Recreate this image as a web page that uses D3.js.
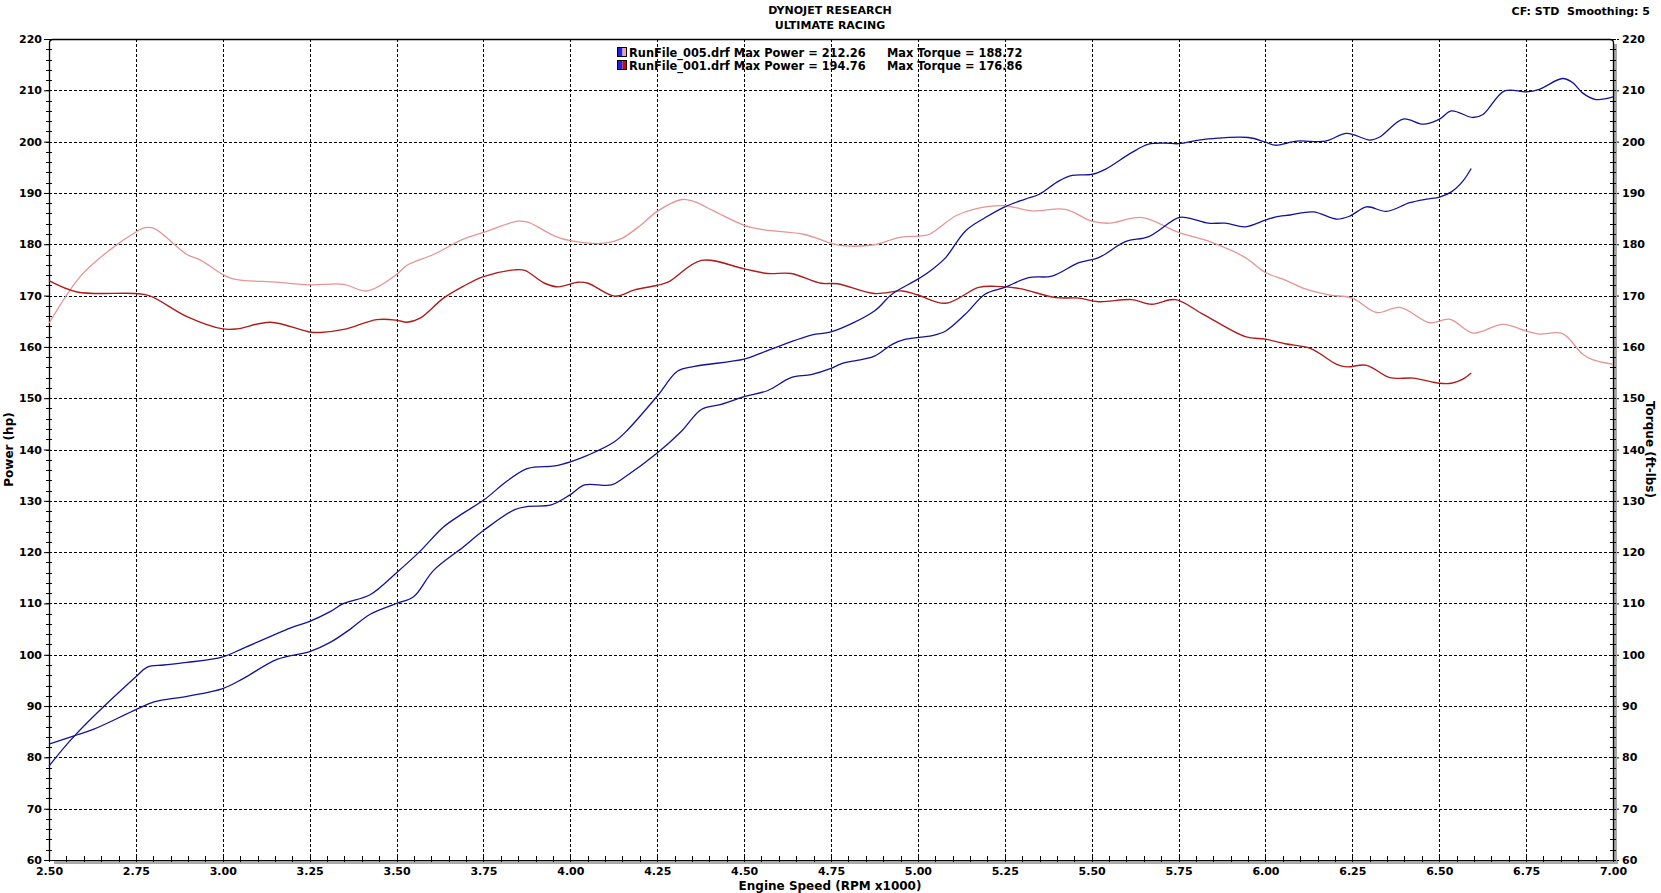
<!DOCTYPE html>
<html><head><meta charset="utf-8">
<script src="https://cdn.jsdelivr.net/npm/d3@7"></script>
<style>
body{margin:0;background:#fff;}
svg text{font-family:"DejaVu Sans",Verdana,sans-serif;font-weight:bold;fill:#000;}
</style>
</head><body>
<svg id="chart" width="1661" height="893"></svg>
<script>
// ---------- DATA ----------
const titleLines = ["DYNOJET RESEARCH", "ULTIMATE RACING"];
const cornerNote = "CF: STD  Smoothing: 5";
const xTickValues = [2.50,2.75,3.00,3.25,3.50,3.75,4.00,4.25,4.50,4.75,5.00,5.25,5.50,5.75,6.00,6.25,6.50,6.75,7.00];
const yTickValues = [60,70,80,90,100,110,120,130,140,150,160,170,180,190,200,210,220];

const legendFiles = ["RunFile_005.drf", "RunFile_001.drf"];
const legendMaxPower = ["212.26", "194.76"];
const legendMaxTorque = ["188.72", "176.86"];

// Run 005 power (hp)
const rpmPower005 = [2.50,2.572,2.75,2.783,2.83,2.897,3.00,3.06,3.194,3.25,3.309,3.348,3.424,3.50,3.568,3.635,3.692,
  3.75,3.821,3.878,3.955,4.00,4.051,4.127,4.166,4.25,4.309,4.357,4.50,4.549,4.693,4.75,4.875,
  4.926,5.00,5.041,5.08,5.137,5.194,5.25,5.309,5.348,5.405,5.444,5.50,5.539,5.616,5.664,5.712,5.75,5.808,5.846,5.951,6.00,6.028,
  6.09,6.172,6.234,6.301,6.329,6.396,6.454,6.501,6.535,6.597,6.626,6.688,6.75,6.788,6.855,6.884,6.912,6.951,7.00];
const hpPower005 = [78.3,84.1,95.7,97.6,98.0,98.5,99.6,101.3,105.2,106.5,108.4,110.0,111.7,116.0,120.2,124.9,127.6,
  130.1,134.0,136.3,136.8,137.6,138.9,141.5,143.9,150.4,155.3,156.2,157.6,158.8,162.3,162.9,167.0,
  170.3,173.2,175.1,177.4,182.6,185.2,187.3,188.8,189.7,192.3,193.4,193.6,194.6,197.9,199.5,199.7,199.6,200.3,200.6,200.8,199.9,199.3,
  200.1,200.1,201.6,200.3,200.9,204.4,203.4,204.4,206.0,204.7,205.3,209.9,209.7,210.2,212.3,211.5,209.5,208.2,208.7];

// Run 001 power (hp)
const rpmPower001 = [2.50,2.572,2.629,2.75,2.802,2.897,3.00,3.06,3.156,3.25,3.309,3.367,3.424,3.50,3.549,3.606,3.692,
  3.75,3.84,3.878,3.945,4.00,4.041,4.118,4.156,4.25,4.319,4.377,4.434,4.50,4.568,4.635,4.693,4.75,4.779,4.875,
  4.926,4.965,5.041,5.08,5.137,5.194,5.25,5.319,5.386,5.463,5.52,5.597,5.664,5.75,5.779,5.836,5.884,5.942,6.00,6.028,
  6.071,6.138,6.205,6.243,6.291,6.348,6.415,6.463,6.501,6.535,6.568,6.592];
const hpPower001 = [82.6,84.2,85.5,89.3,90.8,91.9,93.4,95.4,99.1,100.6,102.4,105.0,107.9,110.0,111.3,116.4,121.0,
  124.2,128.3,128.9,129.2,131.2,133.1,133.1,134.6,139.3,143.5,147.8,148.8,150.3,151.5,154.0,154.6,155.8,156.7,158.2,
  160.5,161.5,162.2,163.1,166.4,170.3,171.6,173.5,173.8,176.4,177.4,180.5,181.5,185.2,185.1,184.1,184.1,183.4,184.7,185.3,
  185.7,186.3,184.9,185.5,187.3,186.4,188.1,188.8,189.2,190.2,192.3,194.76];

// Run 005 torque (ft-lbs)
const rpmTorque005 = [2.50,2.591,2.677,2.75,2.773,2.802,2.897,2.936,3.00,3.032,3.156,3.25,3.348,3.415,3.50,3.53,3.606,3.692,
  3.75,3.85,3.878,3.955,4.00,4.099,4.147,4.204,4.25,4.32,4.357,4.415,4.50,4.559,4.674,4.75,4.788,4.875,
  4.945,5.00,5.032,5.108,5.166,5.25,5.329,5.424,5.50,5.549,5.645,5.75,5.836,5.942,6.00,6.057,
  6.119,6.186,6.25,6.32,6.387,6.473,6.53,6.597,6.683,6.75,6.788,6.855,6.912,6.941,7.00];
const tqTorque005 = [164.6,173.8,179.0,182.4,183.2,183.1,178.0,176.9,174.1,173.2,172.6,172.1,172.2,170.9,174.1,175.9,178.0,181.0,
  182.3,184.5,184.3,181.6,180.7,180.2,181.1,183.8,186.4,188.72,188.3,186.4,183.7,182.8,181.9,180.2,179.7,179.9,
  181.3,181.6,181.9,185.5,186.9,187.5,186.5,186.8,184.5,184.1,185.2,182.3,180.6,177.4,174.5,173.0,
  171.2,170.1,169.5,166.7,167.7,164.7,165.4,162.7,164.4,163.1,162.5,162.6,158.6,157.5,156.6];

// Run 001 torque (ft-lbs)
const rpmTorque001 = [2.50,2.581,2.75,2.792,2.897,3.00,3.041,3.137,3.25,3.28,3.348,3.443,3.50,3.53,3.568,3.635,3.692,
  3.75,3.84,3.869,3.926,3.965,4.022,4.051,4.127,4.185,4.25,4.281,4.377,4.50,4.568,4.635,4.721,4.769,4.875,
  4.955,5.00,5.08,5.175,5.223,5.29,5.396,5.463,5.52,5.616,5.673,5.741,5.817,5.942,6.00,6.057,
  6.129,6.205,6.234,6.291,6.358,6.425,6.501,6.535,6.568,6.592];
const tqTorque001 = [172.9,170.7,170.4,169.9,165.9,163.5,163.5,164.8,162.9,162.8,163.4,165.3,165.2,164.8,165.6,169.5,171.8,
  173.7,175.0,174.9,172.4,171.7,172.6,172.4,169.9,171.1,172.0,172.6,176.86,175.2,174.3,174.3,172.4,172.3,170.4,
  170.9,170.1,168.5,171.6,171.8,171.4,169.6,169.5,168.8,169.2,168.3,169.2,166.5,162.0,161.5,160.6,
  159.7,156.6,156.1,156.4,154.0,153.9,152.9,152.9,153.7,154.9];

const seriesColors = { power005:"#12129a", power001:"#12129a", torque005:"#e69595", torque001:"#b01c1c" };

// ---------- LAYOUT ----------
const svg = d3.select("#chart");
const L = 49, R = 1613, T = 39, B = 860;
const x = d3.scaleLinear().domain([2.5, 7.0]).range([L, R]);
const y = d3.scaleLinear().domain([60, 220]).range([B, T]);

// Titles
svg.append("text").attr("x", 830).attr("y", 14).attr("text-anchor","middle").style("font-size","11px").text(titleLines[0]);
svg.append("text").attr("x", 830).attr("y", 29).attr("text-anchor","middle").style("font-size","11px").text(titleLines[1]);
svg.append("text").attr("x", 1650).attr("y", 15).attr("text-anchor","end").attr("xml:space","preserve")
  .style("font-size","11px").style("white-space","pre").text(cornerNote);

// Grid lines
const g = svg.append("g");
g.selectAll(".vg").data(xTickValues.slice(1, -1)).join("line")
  .attr("x1", d => Math.round(x(d)) + 0.5).attr("x2", d => Math.round(x(d)) + 0.5)
  .attr("y1", T).attr("y2", B)
  .attr("stroke", "#000").attr("stroke-width", 1).attr("stroke-dasharray", "3,2");
g.selectAll(".hg").data(yTickValues.slice(1, -1)).join("line")
  .attr("y1", d => Math.round(y(d)) + 0.5).attr("y2", d => Math.round(y(d)) + 0.5)
  .attr("x1", L).attr("x2", R)
  .attr("stroke", "#000").attr("stroke-width", 1).attr("stroke-dasharray", "3,2");

// Frame: gray bands right & bottom
svg.append("rect").attr("x", R).attr("y", T + 5).attr("width", 4).attr("height", B - T - 1).attr("fill", "#a8a8a8");
svg.append("rect").attr("x", L + 5).attr("y", B).attr("width", R - L).attr("height", 4).attr("fill", "#a8a8a8");
svg.append("path")
  .attr("d", `M${L+0.5},${B} V${T+4} Q${L+0.5},${T+0.5} ${L+4},${T+0.5} H${R-3} Q${R+0.5},${T+0.5} ${R+0.5},${T+4} V${B}`)
  .attr("fill","none").attr("stroke","#000").attr("stroke-width",1.3);
svg.append("line").attr("x1", L).attr("x2", R + 1).attr("y1", B + 0.5).attr("y2", B + 0.5).attr("stroke","#000").attr("stroke-width",1);

// Minor ticks
const yMinor = d3.range(60, 221, 2);
const xMinor = d3.range(0, 91).map(i => 2.5 + i * 0.05);
svg.append("g").selectAll("line").data(yMinor).join("line")
  .attr("x1", L - 3).attr("x2", L + 3)
  .attr("y1", d => Math.round(y(d)) + 0.5).attr("y2", d => Math.round(y(d)) + 0.5)
  .attr("stroke","#000").attr("stroke-width",1);
svg.append("g").selectAll("line").data(yMinor).join("line")
  .attr("x1", R - 3).attr("x2", R + 3)
  .attr("y1", d => Math.round(y(d)) + 0.5).attr("y2", d => Math.round(y(d)) + 0.5)
  .attr("stroke","#000").attr("stroke-width",1);
svg.append("g").selectAll("line").data(xMinor).join("line")
  .attr("x1", d => Math.round(x(d)) + 0.5).attr("x2", d => Math.round(x(d)) + 0.5)
  .attr("y1", B - 4).attr("y2", B + 2)
  .attr("stroke","#000").attr("stroke-width",1);

// Axes (labels + major ticks)
const axLeft = d3.axisLeft(y).tickValues(yTickValues).tickFormat(d3.format("d")).tickSize(5).tickPadding(2);
const axRight = d3.axisRight(y).tickValues(yTickValues).tickFormat(d3.format("d")).tickSize(2).tickPadding(3);
const axBottom = d3.axisBottom(x).tickValues(xTickValues).tickFormat(d3.format(".2f")).tickSize(0).tickPadding(7);
function styleAxis(sel){ sel.select(".domain").remove(); sel.selectAll("text").style("font-size","11px").style("font-family","DejaVu Sans, Verdana, sans-serif").style("font-weight","bold"); sel.selectAll("line").attr("stroke","#000"); }
svg.append("g").attr("transform",`translate(${L},0)`).call(axLeft).call(styleAxis);
svg.append("g").attr("transform",`translate(${R+4},0)`).call(axRight).call(styleAxis);
svg.append("g").attr("transform",`translate(0,${B})`).call(axBottom).call(styleAxis);

// Axis titles
svg.append("text").attr("x", 830).attr("y", 890).attr("text-anchor","middle").style("font-size","12px").text("Engine Speed (RPM x1000)");
svg.append("text").attr("transform", `translate(13,${(T+B)/2}) rotate(-90)`).attr("text-anchor","middle").style("font-size","12px").text("Power (hp)");
svg.append("text").attr("transform", `translate(1646,${(T+B)/2}) rotate(90)`).attr("text-anchor","middle").style("font-size","12px").text("Torque (ft-lbs)");

// Curves
const line = d3.line().x(d => x(d[0])).y(d => y(d[1])).curve(d3.curveCatmullRom.alpha(0.5));
const plotG = svg.append("g");
function drawSeries(rpms, vals, color, w){
  plotG.append("path").datum(d3.zip(rpms, vals)).attr("d", line)
    .attr("fill","none").attr("stroke", color).attr("stroke-width", w).attr("stroke-linejoin","round");
}
drawSeries(rpmTorque005, tqTorque005, seriesColors.torque005, 1.3);
drawSeries(rpmTorque001, tqTorque001, seriesColors.torque001, 1.4);
drawSeries(rpmPower001, hpPower001, seriesColors.power001, 1.3);
drawSeries(rpmPower005, hpPower005, seriesColors.power005, 1.3);

// Legend
const legendRight = ["#f0a0a0", "#e00000"];
const lg = svg.append("g");
legendFiles.forEach((f, i) => {
  const yy = 47 + i * 13;
  lg.append("rect").attr("x", 617.5).attr("y", yy + 0.5).attr("width", 5).attr("height", 9).attr("fill", "#2020e0");
  lg.append("rect").attr("x", 622.5).attr("y", yy + 0.5).attr("width", 4).attr("height", 9).attr("fill", legendRight[i]);
  lg.append("rect").attr("x", 617.5).attr("y", yy + 0.5).attr("width", 9).attr("height", 9).attr("fill", "none").attr("stroke", "#000").attr("stroke-width", 1);
  lg.append("text").attr("x", 629).attr("y", yy + 9.5).style("font-size","11.4px").text(`${f} Max Power = ${legendMaxPower[i]}`);
  lg.append("text").attr("x", 887).attr("y", yy + 9.5).style("font-size","11.4px").text(`Max Torque = ${legendMaxTorque[i]}`);
});
</script>
</body></html>
